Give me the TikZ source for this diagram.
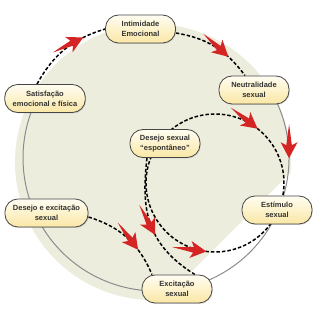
\documentclass[tikz,border=0pt]{standalone}
\usepackage{fontspec}
\setmainfont{Liberation Sans}
\usetikzlibrary{calc, backgrounds, shadows, decorations.markings}

\definecolor{blobfill}{RGB}{237,237,222}
\definecolor{ringgray}{RGB}{140,140,140}
\definecolor{arrowred}{RGB}{212,36,36}
\definecolor{boxtop}{RGB}{255,253,242}
\definecolor{boxbot}{RGB}{250,231,165}
\definecolor{boxline}{RGB}{70,70,70}

\begin{document}
\begin{tikzpicture}[x=1pt, y=1pt,
  stage/.style={
    rectangle, rounded corners=13pt, draw=boxline, line width=0.8pt,
    top color=boxtop, bottom color=boxbot,
    drop shadow={opacity=0.25, shadow xshift=0.8pt, shadow yshift=-1pt},
    minimum width=70pt, minimum height=28pt, inner xsep=8pt,
    align=center, font=\fontsize{7.5}{9.8}\selectfont\bfseries, text=black!80},
  dashline/.style={black, line width=1.5pt, dash pattern=on 3.5pt off 2pt},
  ringline/.style={ringgray, line width=1pt},
  redarrow/.style={postaction={decorate, decoration={markings,
    mark=at position #1 with {\fill[arrowred] (0,0) -- (-16,8.5) -- (-13,2.8)
      -- (-34,0) -- (-13,-2.8) -- (-16,-8.5) -- cycle;}}}}
]
\useasboundingbox (0,0) rectangle (324,324);
% ── Stages ──
\node[stage] (intim)  at (140.5,295) {Intimidade\\Emocional};
\node[stage] (neutr)  at (254,234)   {Neutralidade\\sexual};
\node[stage] (satisf) at (45,225.5)  {Satisfação\\emocional e física};
\node[stage] (desej)  at (165,180.5) {Desejo sexual\\“espontâneo”};
\node[stage] (desexc) at (46.5,111)  {Desejo e excitação\\sexual};
\node[stage] (estim)  at (277,114)   {Estímulo\\sexual};
\node[stage] (excit)  at (177,35)    {Excitação\\sexual};
% ── Centres of the two cycles ──
\coordinate (ring)  at (156,166);
\coordinate (inner) at (215,141);
\begin{scope}[on background layer]
  % ── Backdrop ──
  \fill[blobfill] (163.4,24.4) -- (290.6,151.6)
    arc[start angle=-4.3, end angle=274.3, radius=138] -- cycle;
  % ── Outer ring ──
  \draw[ringline, redarrow=0.128] ($(ring)+(30:133)$)
    arc[start angle=30, end angle=-205, radius=133];
  % ── Dashed links ──
  \draw[dashline, redarrow=0.74] ([xshift=-8pt]satisf.north)
    to[bend left=22] (intim.west);
  \draw[dashline, redarrow=0.7] ([yshift=-4pt]intim.east)
    to[bend left=22] ([xshift=-9pt]neutr.north);
  \draw[dashline, redarrow=0.68] ([yshift=-4pt]desexc.east)
    to[bend left=25] ([xshift=-25pt]excit.north);
  \draw[dashline, redarrow=0.58] ([xshift=-18pt]desej.south)
    .. controls (141,115) and (146,80) .. ([xshift=18pt]excit.north);
  % ── Inner cycle ──
  \draw[dashline, redarrow=0.55] ($(inner)+(130:69)$)
    arc[start angle=130, end angle=-12, radius=69];
  \draw[dashline, redarrow=0.63] ($(inner)+(157:69)$)
    arc[start angle=157, end angle=325, radius=69];
\end{scope}
\end{tikzpicture}
\end{document}
